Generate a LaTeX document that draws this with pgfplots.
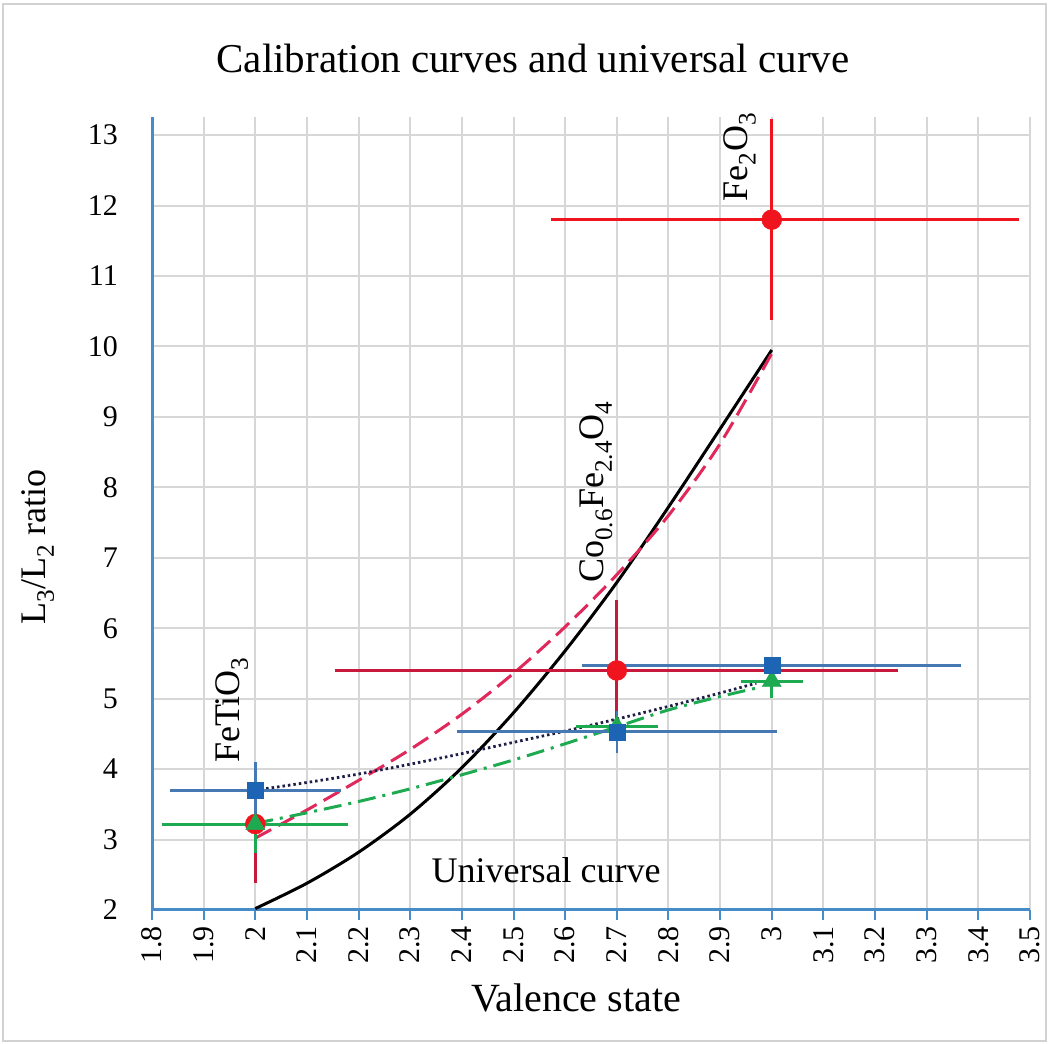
\documentclass[border=0pt]{standalone}
\usepackage{pgfplots}
\pgfplotsset{compat=1.18}
\usepackage{fontspec}
\setmainfont{Liberation Serif}
\definecolor{axisblue}{RGB}{70,140,200}
\definecolor{gridgray}{RGB}{215,215,215}
\definecolor{redpt}{RGB}{240,20,30}
\definecolor{crimson}{RGB}{200,25,60}
\definecolor{reddash}{RGB}{225,40,90}
\definecolor{bluesq}{RGB}{30,100,180}
\definecolor{bluebar}{RGB}{70,120,180}
\definecolor{greenpt}{RGB}{30,170,80}
\definecolor{dotcol}{RGB}{30,30,70}
\newcommand{\tickfont}{\fontsize{30}{36}\selectfont}
\newcommand{\labfont}{\fontsize{36}{42}\selectfont}
\begin{document}
\begin{tikzpicture}
\path[use as bounding box] (0,0) rectangle (1050pt,1044pt);
\draw[gray!35, line width=1.5pt] (3pt,3pt) rectangle (1046pt,1040pt);
\begin{axis}[
  at={(152pt,134pt)}, anchor=south west,
  scale only axis, width=878pt, height=792.5pt,
  xmin=1.8, xmax=3.5, ymin=2, ymax=13.25,
  axis x line*=bottom, axis y line*=left,
  x axis line style={draw=axisblue, line width=3pt},
  y axis line style={draw=axisblue, line width=3pt},
  xtick={1.8,1.9,2,2.1,2.2,2.3,2.4,2.5,2.6,2.7,2.8,2.9,3,3.1,3.2,3.3,3.4,3.5},
  ytick={2,3,4,5,6,7,8,9,10,11,12,13},
  grid=major, grid style={draw=gridgray, line width=2pt},
  tick align=outside, major tick length=10pt,
  xtick style={draw=axisblue, line width=2pt},
  ytick style={draw=none},
  /pgf/number format/assume math mode=true,
  xticklabel style={rotate=90, anchor=east, font=\tickfont, inner sep=2pt},
  yticklabel style={font=\tickfont, inner sep=2pt},
  xticklabel shift=4pt, yticklabel shift=22pt,
  error bars/error mark=none,
  clip=false,
]
% universal curve
\addplot[black, line width=3pt, smooth, mark=none] coordinates {
 (2.0,2.02) (2.1,2.38) (2.2,2.82) (2.3,3.36) (2.4,4.02) (2.5,4.80)
 (2.6,5.68) (2.7,6.65) (2.8,7.72) (2.9,8.83) (3.0,9.95)};
% red dashed
\addplot[reddash, line width=3pt, smooth, mark=none, dash pattern=on 18pt off 8pt] coordinates {
 (2.0,3.02) (2.1,3.42) (2.2,3.84) (2.3,4.28) (2.4,4.78) (2.5,5.36)
 (2.6,6.02) (2.7,6.76) (2.8,7.6) (2.9,8.62) (3.0,9.9)};
% dotted
\addplot[dotcol, line width=2.8pt, smooth, mark=none, dash pattern=on 2.5pt off 3pt] coordinates {
 (2.0,3.70) (2.1,3.81) (2.2,3.93) (2.3,4.07) (2.4,4.22) (2.5,4.38)
 (2.6,4.54) (2.7,4.71) (2.8,4.89) (2.9,5.08) (2.97,5.22)};
% green dash-dot
\addplot[greenpt, line width=3pt, smooth, mark=none, dash pattern=on 18pt off 7pt on 3pt off 7pt] coordinates {
 (2.0,3.23) (2.1,3.38) (2.2,3.54) (2.3,3.72) (2.4,3.92) (2.5,4.13)
 (2.6,4.36) (2.7,4.6) (2.8,4.84) (2.9,5.03) (2.97,5.15)};
% red circles
\addplot[only marks, mark=*, mark size=10pt, color=redpt,
  error bars/.cd, x dir=both, x explicit, y dir=both, y explicit,
  error bar style={line width=3pt, crimson}] coordinates {
 (2,3.22) += (0.15,0.84) -= (0.18,0.84)
 (2.7,5.4) += (0.545,1.0) -= (0.545,1.0)};
\addplot[only marks, mark=*, mark size=10pt, color=redpt,
  error bars/.cd, x dir=both, x explicit, y dir=both, y explicit,
  error bar style={line width=3pt, redpt}] coordinates {
 (3,11.8) += (0.478,1.43) -= (0.427,1.43)};
% green triangles
\addplot[only marks, mark=triangle*, mark size=11pt, color=greenpt,
  error bars/.cd, x dir=both, x explicit, y dir=both, y explicit,
  error bar style={line width=3pt, greenpt}] coordinates {
 (2,3.22) +- (0.18,0.41)
 (2.7,4.6) +- (0.08,0.05)
 (3,5.25) += (0.06,0.05) -= (0.06,0.24)};
% blue squares
\addplot[only marks, mark=square*, mark size=8pt, color=bluesq,
  error bars/.cd, x dir=both, x explicit, y dir=both, y explicit,
  error bar style={line width=2.6pt, bluebar}] coordinates {
 (2,3.7) +- (0.165,0.4)
 (2.7,4.53) +- (0.31,0.3)
 (3,5.47) +- (0.367,0.08)};
\node[rotate=90, font=\labfont] at (axis cs:1.955,4.84) {FeTiO\textsubscript{3}};
\node[rotate=90, font=\labfont] at (axis cs:2.66,7.93) {Co\textsubscript{0.6}Fe\textsubscript{2.4}O\textsubscript{4}};
\node[rotate=90, font=\labfont] at (axis cs:2.938,12.69) {Fe\textsubscript{2}O\textsubscript{3}};
\node[font=\labfont] at (axis cs:2.563,2.57) {Universal curve};
\end{axis}
\node[font=\fontsize{41}{48}\selectfont] at (533pt,986pt) {Calibration curves and universal curve};
\node[font=\fontsize{40}{46}\selectfont] at (576pt,46pt) {Valence state};
\node[rotate=90, font=\labfont] at (38pt,497pt) {L\textsubscript{3}/L\textsubscript{2} ratio};
\end{tikzpicture}
\end{document}
